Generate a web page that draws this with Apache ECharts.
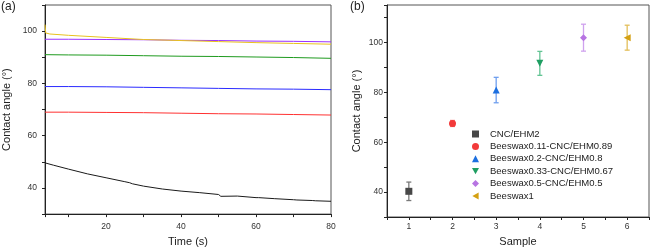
<!DOCTYPE html>
<html>
<head>
<meta charset="utf-8">
<script src="https://cdn.jsdelivr.net/npm/echarts@6/dist/echarts.min.js"></script>
<style>
  html, body { margin: 0; padding: 0; background: #fff; }
  #chart { width: 652px; height: 252px; }
</style>
</head>
<body>
<div id="chart"></div>
<script>
// (a) 接触角随时间变化
var timeBlack  = [3.7, 6, 10, 15, 20, 25, 26.3, 26.6, 27, 30, 35, 40, 45, 50, 50.4, 50.6, 50.8, 55, 60, 60.3, 60.5, 60.7, 65, 70, 70.9, 71.1, 71.3, 75, 75.8, 76.0, 76.2, 80];
var angleBlack = [49.6, 48.7, 47.2, 45.4, 43.9, 42.4, 42.0, 42.2, 41.6, 40.7, 39.6, 38.8, 38.2, 37.5, 37.4, 36.8, 37.4, 36.9, 36.3, 36.3, 35.7, 36.3, 35.9, 35.5, 35.4, 34.9, 35.4, 35.2, 35.1, 34.5, 35.1, 34.9];

var timeLine = [3.7, 10, 20, 30, 40, 50, 60, 70, 80];
var angleRed    = [69.0, 69.0, 68.9, 68.8, 68.6, 68.4, 68.3, 68.1, 67.9];
var angleBlue   = [78.8, 78.8, 78.7, 78.5, 78.3, 78.1, 77.9, 77.8, 77.6];
var angleGreen  = [91.0, 90.9, 90.8, 90.6, 90.4, 90.3, 90.1, 89.9, 89.6];
var anglePurple = [96.9, 96.9, 96.8, 96.7, 96.5, 96.4, 96.2, 96.1, 95.9];

var timeGold  = [3.7, 3.9, 5, 10, 20, 30, 40, 50, 60, 70, 80];
var angleGold = [102.5, 99.3, 98.9, 98.4, 97.6, 96.8, 96.4, 96.0, 95.6, 95.3, 95.0];

// (b) 各样品接触角
var sampleNames = ['CNC/EHM2', 'Beeswax0.11-CNC/EHM0.89', 'Beeswax0.2-CNC/EHM0.8',
                   'Beeswax0.33-CNC/EHM0.67', 'Beeswax0.5-CNC/EHM0.5', 'Beeswax1'];
var sampleIdx  = [1, 2, 3, 4, 5, 6];
var sampleMean = [40.3, 67.5, 80.9, 91.6, 101.9, 101.9];
var sampleErr  = [3.7, 1.2, 5.1, 4.8, 5.4, 5.0];

var markColors = ['#474747', '#f23a3a', '#1c6fe0', '#1f9e62', '#b774e2', '#d4a012'];
var barColors  = ['#7a7a7a', '#f77a7a', '#6f9fee', '#63c494', '#cfa2ee', '#e3bf5a'];
var symbols = ['rect', 'circle', 'triangle', 'path://M0,0L10,0L5,9Z', 'diamond', 'path://M9,0L9,10L0,5Z'];

var font = 'Liberation Sans, Arial, sans-serif';
var chart = echarts.init(document.getElementById('chart'));

function pair(xs, ys) {
    var out = [];
    for (var i = 0; i < xs.length; i++) out.push([xs[i], ys[i]]);
    return out;
}

var axisBase = {
    axisLine: { onZero: false, lineStyle: { color: '#222', width: 1 } },
    axisTick: { inside: false, length: 3, lineStyle: { color: '#222' } },
    splitLine: { show: false },
    nameTextStyle: { fontFamily: font, fontSize: 11, color: '#222' },
    nameLocation: 'middle'
};

var series = [];
var lineData = [
    [timeBlack, angleBlack, '#1a1a1a'],
    [timeLine, angleRed, '#ff3030'],
    [timeLine, angleBlue, '#2a2aff'],
    [timeLine, angleGreen, '#1e9a1e'],
    [timeLine, anglePurple, '#9a30ff'],
    [timeGold, angleGold, '#e8c21e']
];
lineData.forEach(function (d) {
    series.push({
        type: 'line', xAxisIndex: 0, yAxisIndex: 0,
        data: pair(d[0], d[1]), showSymbol: false, silent: true,
        lineStyle: { color: d[2], width: 1 }
    });
});

// 误差棒
series.push({
    type: 'custom', xAxisIndex: 1, yAxisIndex: 1, silent: true,
    data: sampleIdx.map(function (x, i) { return [x, sampleMean[i] - sampleErr[i], sampleMean[i] + sampleErr[i]]; }),
    renderItem: function (params, api) {
        var lo = api.coord([api.value(0), api.value(1)]);
        var hi = api.coord([api.value(0), api.value(2)]);
        var c = barColors[params.dataIndex];
        var w = 2.5;
        var st = { stroke: c, lineWidth: 1.3 };
        return { type: 'group', children: [
            { type: 'line', shape: { x1: lo[0], y1: lo[1], x2: hi[0], y2: hi[1] }, style: st },
            { type: 'line', shape: { x1: lo[0] - w, y1: lo[1], x2: lo[0] + w, y2: lo[1] }, style: st },
            { type: 'line', shape: { x1: hi[0] - w, y1: hi[1], x2: hi[0] + w, y2: hi[1] }, style: st }
        ] };
    },
    z: 1
});
sampleNames.forEach(function (name, i) {
    series.push({
        name: name, type: 'scatter', xAxisIndex: 1, yAxisIndex: 1,
        data: [[sampleIdx[i], sampleMean[i]]],
        symbol: symbols[i], symbolSize: 7,
        itemStyle: { color: markColors[i], opacity: 1 },
        z: 3
    });
});

chart.setOption({
    animation: false,
    textStyle: { fontFamily: font },
    grid: [
        { left: 45, top: 5, width: 286, height: 210, show: true, borderColor: '#555', borderWidth: 1 },
        { left: 387, top: 5, width: 264, height: 213, show: true, borderColor: '#555', borderWidth: 1 }
    ],
    graphic: [
        { type: 'text', left: 1, top: 1, style: { text: '(a)', font: '12px ' + font, fill: '#222' } },
        { type: 'text', left: 350, top: 1, style: { text: '(b)', font: '12px ' + font, fill: '#222' } }
    ],
    legend: {
        orient: 'vertical', left: 467, top: 123,
        itemWidth: 7, itemHeight: 7, itemGap: 0.4,
        data: sampleNames,
        textStyle: { fontFamily: font, fontSize: 9.5, color: '#222', lineHeight: 12, padding: [0, 0, 0, 6] }
    },
    xAxis: [
        Object.assign({}, axisBase, {
            gridIndex: 0, type: 'value', min: 3.7, max: 80, splitNumber: 8,
            name: 'Time (s)', nameGap: 21,
            axisLabel: { fontFamily: font, fontSize: 8.5, color: '#333', margin: 8,
                formatter: function (v) { return v % 20 === 0 ? v : ''; } }
        }),
        Object.assign({}, axisBase, {
            gridIndex: 1, type: 'value', min: 0.5, max: 6.5, interval: 0.5,
            name: 'Sample', nameGap: 19,
            axisLabel: { fontFamily: font, fontSize: 8.5, color: '#333', margin: 5,
                formatter: function (v) { return v % 1 === 0 ? v : ''; } }
        })
    ],
    yAxis: [
        Object.assign({}, axisBase, {
            gridIndex: 0, type: 'value', min: 30, max: 110, interval: 10,
            name: 'Contact angle (°)', nameGap: 33,
            axisLabel: { fontFamily: font, fontSize: 8.5, color: '#333', margin: 8,
                formatter: function (v) { return v % 20 === 0 && v > 30 && v < 110 ? v : ''; } }
        }),
        Object.assign({}, axisBase, {
            gridIndex: 1, type: 'value', min: 30, max: 115, interval: 10,
            name: 'Contact angle (°)', nameGap: 25,
            axisLabel: { fontFamily: font, fontSize: 8.5, color: '#333', margin: 4,
                formatter: function (v) { return v % 20 === 0 && v > 30 ? v : ''; } }
        })
    ],
    series: series
});
</script>
</body>
</html>
